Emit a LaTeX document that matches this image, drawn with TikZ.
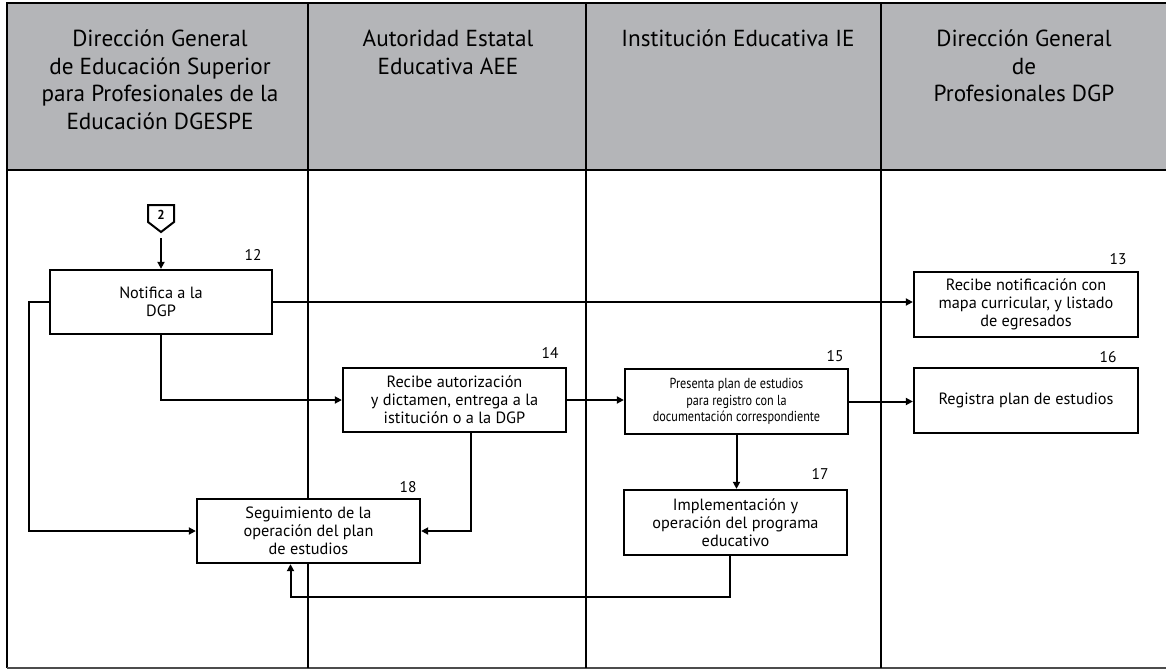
\documentclass[tikz,border=0pt]{standalone}
\usepackage{fontspec}
\setmainfont{PT Sans}
\newfontfamily\condfont[FakeStretch=0.84]{PT Sans}
\usetikzlibrary{arrows.meta,calc}
\definecolor{hdrgray}{RGB}{180,181,184}
\begin{document}
\begin{tikzpicture}[x=1pt,y=-1pt,
  lane/.style={line width=2pt},
  box/.style={draw, fill=white, line width=2.3pt, align=center, inner sep=2pt,
    font=\fontsize{16.3}{17.8}\selectfont, minimum width=223pt, minimum height=64pt},
  num/.style={font=\fontsize{15.5}{16}\selectfont, inner sep=0pt},
  hdr/.style={align=center, anchor=north, inner sep=0pt, font=\fontsize{23.2}{27.5}\selectfont},
  arr/.style={line width=2pt, -{Triangle[length=7pt,width=7pt]}},
  ln/.style={line width=2pt}]
\useasboundingbox (0,0) rectangle (1166,670);
\fill[white] (0,0) rectangle (1166,670);
% header band
\fill[hdrgray] (7,3) rectangle (1166,170);
\draw[line width=2pt] (1166,3) -- (7,3) -- (7,668);
\draw[line width=2.5pt] (7,170) -- (1166,170);
\draw[line width=2pt, black!70] (7,668) -- (1166,668);
% lane dividers
\draw[lane] (308,3) -- (308,668);
\draw[lane] (586,3) -- (586,668);
\draw[lane] (881,3) -- (881,668);
% header texts
\node[hdr] (h1) at (160,30) {Dirección General\\de Educación Superior\\para Profesionales de la\\Educación DGESPE};
\node[hdr] (h2) at (448,30) {Autoridad Estatal\\Educativa AEE};
\node[hdr] (h3) at (738,30) {Institución Educativa IE};
\node[hdr] (h4) at (1024,30) {Dirección General\\de\\Profesionales DGP};
% off-page connector
\draw[line width=2pt, line join=miter] (148,205) -- (174,205) -- (174,222) -- (161,232) -- (148,222) -- cycle;
\node[font=\bfseries\fontsize{13}{13}\selectfont, inner sep=0pt] (c2) at (161,215) {2};
\coordinate (c2tip) at (161,232);
% boxes
\node[box, minimum width=222pt] (b12) at (161,302) {Notifica a la\\DGP};
\node[box, minimum width=224pt, minimum height=65pt] (b13) at (1026,304.5) {Recibe notificación con\\mapa curricular, y listado\\de egresados};
\node[box] (b14) at (454.5,400) {Recibe autorización\\y dictamen, entrega a la\\istitución o a la DGP};
\node[box, minimum height=65pt, font=\condfont\fontsize{14.5}{16.7}\selectfont] (b15) at (736.5,401.5) {Presenta plan de estudios\\para registro con la\\documentación correspondiente};
\node[box, minimum width=224pt, minimum height=65pt, font=\fontsize{16.3}{17.8}\selectfont] (b16) at (1026,400.5) {Registra plan de estudios};
\node[box, minimum height=65pt] (b17) at (735.5,522.5) {Implementación y\\operación del programa\\educativo};
\node[box] (b18) at (308.5,531) {Seguimiento de la\\operación del plan\\de estudios};
% step numbers
\node[num] (n12) at (253,255) {12};
\node[num] (n13) at (1118,259) {13};
\node[num] (n14) at (550,353) {14};
\node[num] (n15) at (835,356) {15};
\node[num] (n16) at (1108,357) {16};
\node[num] (n17) at (820,474) {17};
\node[num] (n18) at (408,487) {18};
% connectors
\draw[arr, shorten <=6pt] (c2tip) -- (b12.north);
\draw[arr] (b12.east) -- (b12.east -| b13.west);
\draw[arr] (b12.west) -- ++(-20,0) |- (b18.west);
\draw[arr] (b12.south) |- (b14.west);
\draw[arr] (b14.east) -- (b14.east -| b15.west);
\draw[arr] (b15.east) -- (b15.east -| b16.west);
\draw[arr] (b15.south) -- (b15.south |- b17.north);
\draw[arr] ([xshift=-6pt]b17.south) -- ++(0,41) -| ([xshift=-18pt]b18.south);
\draw[arr] ([xshift=16pt]b14.south) |- (b18.east);
\end{tikzpicture}
\end{document}
